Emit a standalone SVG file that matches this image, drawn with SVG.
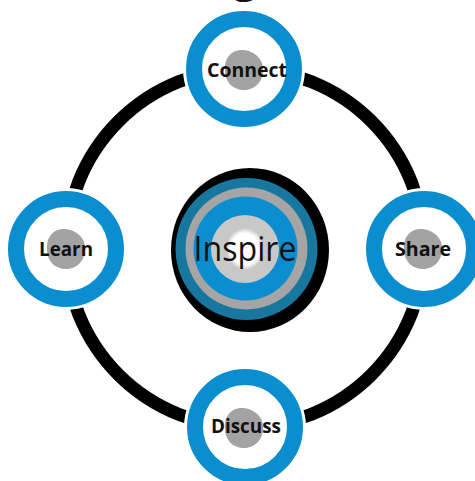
<svg xmlns="http://www.w3.org/2000/svg" width="475" height="481" viewBox="0 0 475 481">
<defs>
<style>
.halo{fill:#fff}
.ring{fill:#fff;stroke:#0B8ECF;stroke-width:16}
.blob{fill:#A3A3A3}
.lbl{font-family:"Open Sans","Noto Sans",sans-serif;font-weight:bold;font-size:20px;fill:#111;text-anchor:middle}
.big{font-family:"Open Sans","Noto Sans",sans-serif;font-size:34px;fill:#111;text-anchor:middle}
</style>
<path id="blobshape" d="M -4,-20 C 8,-21 19,-12 19,-2 C 20,10 12,20 0,20 C -11,20 -19,12 -19,1 C -20,-11 -14,-19 -4,-20 Z"/>
<radialGradient id="spot" cx="0.5" cy="0.5" r="0.5">
<stop offset="0" stop-color="#fff"/>
<stop offset="0.75" stop-color="#fff"/>
<stop offset="1" stop-color="#C8C8C8"/>
</radialGradient>
</defs>
<rect width="475" height="481" fill="#fff"/>
<text x="245" y="-7" class="lbl" style="font-size:40px">g</text>
<g id="connectors">
<circle cx="245" cy="248" r="179" fill="none" stroke="#000" stroke-width="13"/>
</g>
<g id="connect">
<circle class="halo" cx="244" cy="69" r="61"/>
<circle class="ring" cx="244" cy="69" r="50"/>
<use href="#blobshape" class="blob" x="244" y="70"/>
<text class="lbl" x="247" y="77" textLength="80" lengthAdjust="spacingAndGlyphs">Connect</text>
</g>
<g id="learn">
<circle class="halo" cx="66" cy="249" r="61"/>
<circle class="ring" cx="66" cy="249" r="50"/>
<use href="#blobshape" class="blob" x="66" y="249"/>
<text class="lbl" x="66" y="256" textLength="54" lengthAdjust="spacingAndGlyphs">Learn</text>
</g>
<g id="share">
<circle class="halo" cx="424" cy="249" r="61"/>
<circle class="ring" cx="424" cy="249" r="50"/>
<use href="#blobshape" class="blob" x="423" y="249"/>
<text class="lbl" x="423" y="256" textLength="56" lengthAdjust="spacingAndGlyphs">Share</text>
</g>
<g id="discuss">
<circle class="halo" cx="245" cy="427" r="61"/>
<circle class="ring" cx="245" cy="427" r="50"/>
<use href="#blobshape" class="blob" x="244" y="428"/>
<text class="lbl" x="246" y="433" textLength="70" lengthAdjust="spacingAndGlyphs">Discuss</text>
</g>
<g id="inspire">
<ellipse cx="250" cy="250" rx="79" ry="82" fill="#000"/>
<circle cx="246.5" cy="249" r="71" fill="#17779F"/>
<circle cx="246.5" cy="248.5" r="61" fill="#A5A5A5"/>
<circle cx="245.5" cy="248.5" r="52" fill="#0B8ECF"/>
<circle cx="245" cy="249" r="34" fill="#C8C8C8"/>
<ellipse cx="245" cy="249" rx="19" ry="21" fill="url(#spot)"/>
<text class="big" x="245" y="261" textLength="103" lengthAdjust="spacingAndGlyphs">Inspire</text>
</g>
</svg>
